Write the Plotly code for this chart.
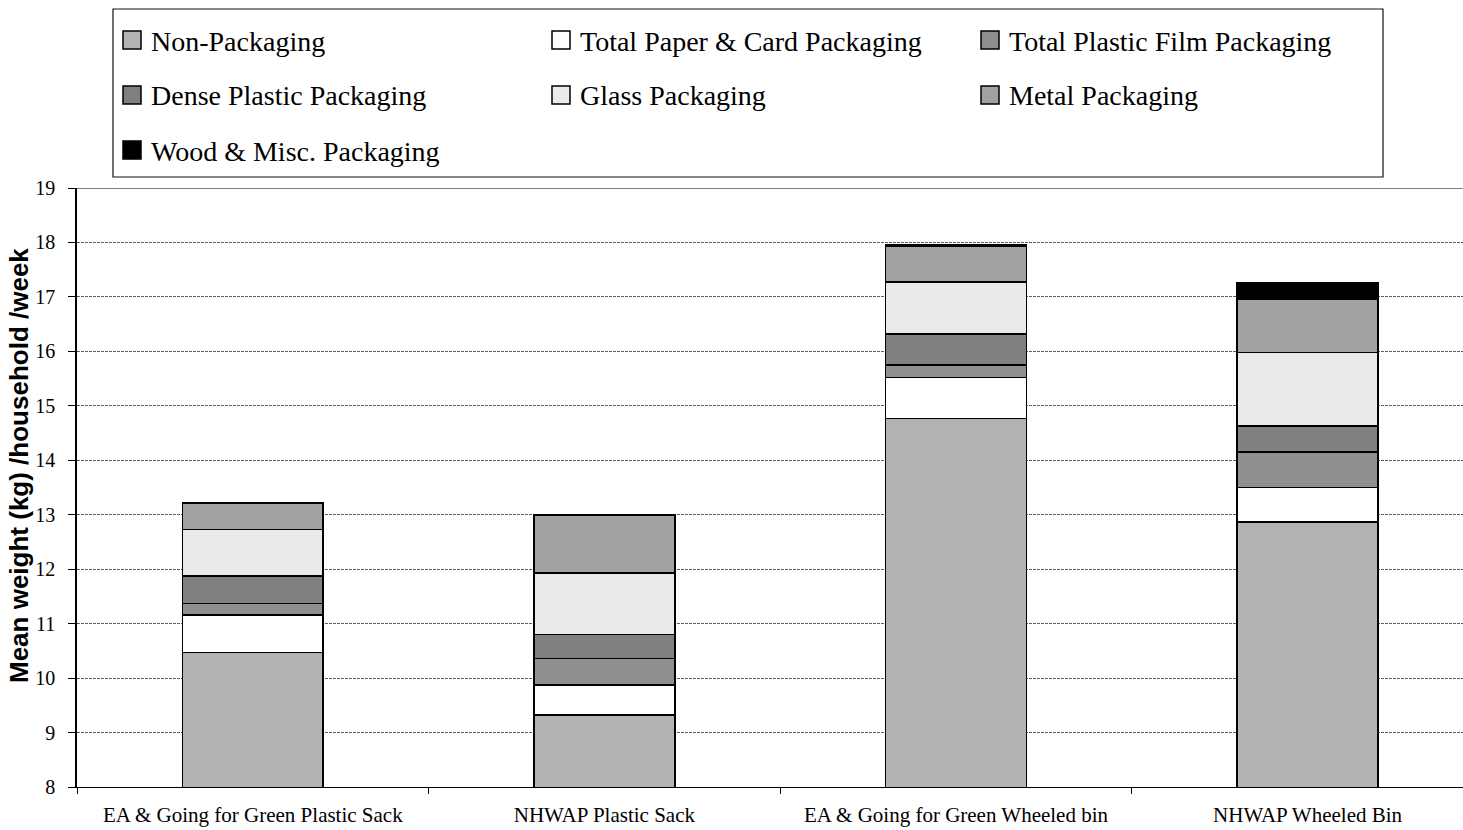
import plotly.graph_objects as go

# Household residual waste composition, mean kg per household per week
categories = [
    "EA & Going for Green Plastic Sack",
    "NHWAP Plastic Sack",
    "EA & Going for Green Wheeled bin",
    "NHWAP Wheeled Bin",
]
non_packaging = [10.47, 9.32, 14.77, 12.87]
paper_card = [0.69, 0.55, 0.75, 0.63]
plastic_film = [0.21, 0.49, 0.23, 0.65]
dense_plastic = [0.50, 0.44, 0.57, 0.48]
glass = [0.86, 1.13, 0.95, 1.35]
metal = [0.49, 1.06, 0.67, 0.98]
wood_misc = [0.0, 0.0, 0.02, 0.30]

series_names = [
    "Non-Packaging",
    "Total Paper & Card Packaging",
    "Total Plastic Film Packaging",
    "Dense Plastic Packaging",
    "Glass Packaging",
    "Metal Packaging",
    "Wood & Misc. Packaging",
]
series_values = [non_packaging, paper_card, plastic_film, dense_plastic,
                 glass, metal, wood_misc]
series_colors = ["#B3B3B3", "#FFFFFF", "#8F8F8F", "#808080",
                 "#EAEAEA", "#A1A1A1", "#000000"]

y_ticks = list(range(8, 20))

SERIF = "Liberation Serif"
W, H = 1463, 830
ML, MR, MT, MB = 77, 0, 188, 43

fig = go.Figure()
for name, vals, col in zip(series_names, series_values, series_colors):
    fig.add_trace(go.Bar(
        x=categories, y=vals, name=name, width=0.40,
        marker=dict(color=col, line=dict(color="#000000", width=1.6)),
        showlegend=False,
    ))

fig.update_layout(
    width=W, height=H,
    margin=dict(l=ML, r=MR, t=MT, b=MB, pad=0),
    barmode="stack",
    plot_bgcolor="white", paper_bgcolor="white",
    font=dict(family=SERIF, color="#000000"),
    xaxis=dict(
        type="category", range=[-0.5, 3.442], tickson="boundaries",
        ticks="outside", ticklen=6, tickcolor="#000", tickwidth=1,
        showgrid=False, showline=True, linecolor="#000", linewidth=1,
        tickfont=dict(family=SERIF, size=21, color="#000"),
        ticklabelstandoff=9, zeroline=False,
    ),
    yaxis=dict(
        range=[8, 19], tickvals=y_ticks, ticks="outside", ticklen=7,
        tickcolor="#000", tickwidth=1,
        showline=True, linecolor="#000", linewidth=1.5,
        showgrid=True, gridcolor="#5E5E5E", gridwidth=1, griddash="3px,1px",
        tickfont=dict(family=SERIF, size=20, color="#000"),
        ticklabelstandoff=9, zeroline=False,
    ),
)

# top boundary of the plot area
fig.add_shape(type="line", xref="paper", yref="y", x0=0, x1=1, y0=19, y1=19,
              line=dict(color="#808080", width=2))

plot_w = W - ML - MR
plot_h = H - MT - MB


def px_x(px):
    return (px - ML) / plot_w


def px_y(py):
    return 1 - (py - MT) / plot_h


# y-axis title
fig.add_annotation(
    text="<b>Mean weight (kg) /household /week</b>",
    xref="paper", yref="paper", x=px_x(19), y=px_y(466),
    xanchor="center", yanchor="middle", textangle=-90, showarrow=False,
    font=dict(family="Liberation Sans", size=26, color="#000"),
)

# legend panel
fig.add_shape(type="rect", xref="paper", yref="paper",
              x0=px_x(113), x1=px_x(1383), y0=px_y(177), y1=px_y(9),
              line=dict(color="#111", width=1.2), fillcolor="white", layer="above")

col_x = [123, 552, 981]
row_y = [40, 95, 150]
sq = 18
for i, (name, col) in enumerate(zip(series_names, series_colors)):
    cx = col_x[i % 3]
    cy = row_y[i // 3]
    fig.add_shape(type="rect", xref="paper", yref="paper",
                  x0=px_x(cx), x1=px_x(cx + sq),
                  y0=px_y(cy + sq / 2), y1=px_y(cy - sq / 2),
                  fillcolor=col, line=dict(color="#000", width=1.5), layer="above")
    fig.add_annotation(text=name, xref="paper", yref="paper",
                       x=px_x(cx + sq + 8), y=px_y(cy + 1),
                       xanchor="left", yanchor="middle", showarrow=False,
                       font=dict(family=SERIF, size=28, color="#000"))

fig.write_html("out.html")
